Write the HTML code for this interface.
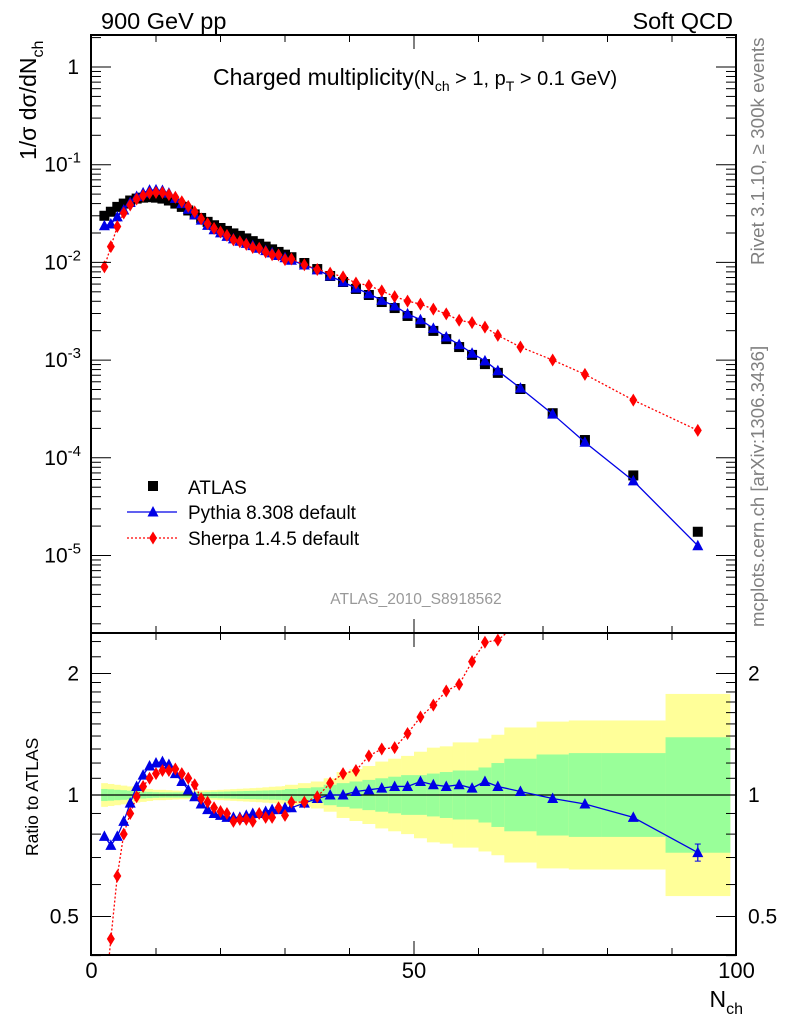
<!DOCTYPE html>
<html><head><meta charset="utf-8"><style>
body{margin:0;background:#fff;}
svg{display:block;font-family:"Liberation Sans",sans-serif;}
</style></head><body>
<svg id="c" width="786" height="1024" viewBox="0 0 786 1024" xmlns="http://www.w3.org/2000/svg"></svg>
<script>
const nch = [2,3,4,5,6,7,8,9,10,11,12,13,14,15,16,17,18,19,20,21,22,23,24,25,26,27,28,29,30,31,33,35,37,39,41,43,45,47,49,51,53,55,57,59,61,63,66.5,71.5,76.5,84,94];
const binLo = [1.5,2.5,3.5,4.5,5.5,6.5,7.5,8.5,9.5,10.5,11.5,12.5,13.5,14.5,15.5,16.5,17.5,18.5,19.5,20.5,21.5,22.5,23.5,24.5,25.5,26.5,27.5,28.5,29.5,30,32,34,36,38,40,42,44,46,48,50,52,54,56,58,60,62,64,69,74,79,89];
const binHi = [2.5,3.5,4.5,5.5,6.5,7.5,8.5,9.5,10.5,11.5,12.5,13.5,14.5,15.5,16.5,17.5,18.5,19.5,20.5,21.5,22.5,23.5,24.5,25.5,26.5,27.5,28.5,29.5,30,32,34,36,38,40,42,44,46,48,50,52,54,56,58,60,62,64,69,74,79,89,99];
const atlas = [0.030,0.033,0.037,0.040,0.043,0.045,0.046,0.0465,0.046,0.045,0.043,0.040,0.037,0.034,0.031,0.0285,0.026,0.024,0.0225,0.021,0.0198,0.0187,0.0176,0.0165,0.0155,0.0145,0.0136,0.0128,0.0120,0.0113,0.00986,0.00855,0.00726,0.0063,0.00535,0.00464,0.00393,0.00341,0.00283,0.0024,0.00199,0.00164,0.00136,0.00113,0.00091,0.00074,0.000506,0.000286,0.000152,0.000066,0.0000175];
const pythiaRatio = [0.79,0.75,0.79,0.86,0.955,1.05,1.12,1.18,1.20,1.21,1.19,1.13,1.08,1.03,0.99,0.95,0.92,0.90,0.89,0.88,0.88,0.88,0.89,0.90,0.90,0.91,0.92,0.92,0.93,0.93,0.955,0.98,1.0,1.0,1.02,1.03,1.04,1.05,1.05,1.08,1.06,1.05,1.06,1.04,1.08,1.05,1.02,0.98,0.95,0.88,0.72];
const sherpaRatio = [0.30,0.44,0.63,0.80,0.90,0.99,1.05,1.10,1.13,1.15,1.15,1.16,1.13,1.10,1.06,0.98,0.96,0.93,0.91,0.90,0.86,0.87,0.87,0.86,0.90,0.88,0.88,0.93,0.89,0.96,0.96,0.99,1.07,1.13,1.15,1.25,1.30,1.31,1.42,1.56,1.67,1.81,1.88,2.14,2.39,2.42,2.69,3.5,4.7,5.9,10.9];
const yellowErr = [0.07,0.065,0.06,0.055,0.05,0.045,0.04,0.035,0.03,0.03,0.028,0.026,0.025,0.025,0.025,0.026,0.027,0.028,0.03,0.032,0.034,0.036,0.038,0.04,0.042,0.045,0.048,0.05,0.052,0.06,0.07,0.08,0.10,0.14,0.16,0.18,0.21,0.23,0.25,0.28,0.31,0.32,0.35,0.35,0.38,0.41,0.47,0.52,0.53,0.53,0.78];
const greenErr = [0.035,0.033,0.03,0.028,0.025,0.022,0.02,0.018,0.016,0.015,0.015,0.015,0.015,0.015,0.015,0.016,0.017,0.018,0.019,0.02,0.021,0.022,0.023,0.024,0.025,0.026,0.027,0.028,0.03,0.035,0.04,0.045,0.06,0.07,0.08,0.09,0.10,0.11,0.12,0.12,0.13,0.14,0.15,0.15,0.17,0.20,0.23,0.26,0.27,0.27,0.39];
const xTicks = [0,50,100];
const yTickExp = [0,-1,-2,-3,-4,-5];
const ratioTicks = [0.5,1,2];

const S = document.getElementById('c');
const NS = 'http://www.w3.org/2000/svg';
function mk(tag, attrs, parent){const e=document.createElementNS(NS,tag);for(const k in attrs)e.setAttribute(k,attrs[k]);(parent||S).appendChild(e);return e;}
const L=91, R=736, T=35, MB=633, RB=955;
const xs = v => L + (v/100)*(R-L) + 0.5;
const ym = v => 67 - 97.7*Math.log10(v);
const yr = v => 795 - 121.5*Math.log2(v);

const defs = mk('defs',{});
const c1 = mk('clipPath',{id:'cm'},defs); mk('rect',{x:L,y:T,width:R-L,height:MB-T},c1);
const c2 = mk('clipPath',{id:'cr'},defs); mk('rect',{x:L,y:MB,width:R-L,height:RB-MB},c2);

const gBand = mk('g',{'clip-path':'url(#cr)'});


for(let i=0;i<nch.length;i++){
  const x1=xs(binLo[i]), x2=xs(binHi[i]);
  const yt=yr(1+yellowErr[i]), yb=yr(1/(1+yellowErr[i]));
  const r=mk('rect',{x:x1,y:yt,width:x2-x1+0.3,height:yb-yt,fill:'#ffff99'},gBand);
  
  
  const gt=yr(1+greenErr[i]), gb=yr(1/(1+greenErr[i]));
  const g=mk('rect',{x:x1,y:gt,width:x2-x1+0.3,height:gb-gt,fill:'#99ff99'},gBand);
  
  
}
mk('line',{x1:L,x2:R,y1:yr(1),y2:yr(1),stroke:'#000','stroke-width':1.2});

function sq(g,x,y){const e=mk('rect',{x:x-5,y:y-5,width:10,height:10,fill:'#000'},g);}
function tri(g,x,y){const e=mk('polygon',{points:`${x},${y-6} ${x-5.5},${y+4.5} ${x+5.5},${y+4.5}`,fill:'#0000e6'},g);}
function dia(g,x,y){const e=mk('polygon',{points:`${x},${y-6.5} ${x-4},${y} ${x},${y+6.5} ${x+4},${y}`,fill:'#ff0000'},g);}

const gm = mk('g',{'clip-path':'url(#cm)'});


const pyVals = atlas.map((a,i)=>a*pythiaRatio[i]);
const shVals = atlas.map((a,i)=>a*sherpaRatio[i]);
for(let i=0;i<nch.length;i++) sq(gm,xs(nch[i]),ym(atlas[i]));
let p=mk('polyline',{points:nch.map((n,i)=>xs(n)+','+ym(pyVals[i])).join(' '),fill:'none',stroke:'#0000e6','stroke-width':1.3},gm);

p=mk('polyline',{points:nch.map((n,i)=>xs(n)+','+ym(shVals[i])).join(' '),fill:'none',stroke:'#ff0000','stroke-width':1.3,'stroke-dasharray':'2,2'},gm);

for(let i=0;i<nch.length;i++) tri(gm,xs(nch[i]),ym(pyVals[i]));
for(let i=0;i<nch.length;i++) dia(gm,xs(nch[i]),ym(shVals[i]));

const gr = mk('g',{'clip-path':'url(#cr)'});


p=mk('polyline',{points:nch.map((n,i)=>xs(n)+','+yr(pythiaRatio[i])).join(' '),fill:'none',stroke:'#0000e6','stroke-width':1.3},gr);

p=mk('polyline',{points:nch.map((n,i)=>xs(n)+','+yr(sherpaRatio[i])).join(' '),fill:'none',stroke:'#ff0000','stroke-width':1.3,'stroke-dasharray':'2,2'},gr);

{const i=nch.length-1, x=xs(nch[i]);
 mk('line',{x1:x,x2:x,y1:yr(pythiaRatio[i]*1.05),y2:yr(pythiaRatio[i]/1.05),stroke:'#0000e6','stroke-width':1.2},gr);
 mk('line',{x1:x-3,x2:x+3,y1:yr(pythiaRatio[i]*1.05),y2:yr(pythiaRatio[i]*1.05),stroke:'#0000e6'},gr);
 mk('line',{x1:x-3,x2:x+3,y1:yr(pythiaRatio[i]/1.05),y2:yr(pythiaRatio[i]/1.05),stroke:'#0000e6'},gr);}
for(let i=0;i<nch.length;i++) tri(gr,xs(nch[i]),yr(pythiaRatio[i]));
for(let i=0;i<nch.length;i++) dia(gr,xs(nch[i]),yr(sherpaRatio[i]));

const f1=mk('rect',{x:L,y:T,width:R-L,height:MB-T,fill:'none',stroke:'#000','stroke-width':2});

const f2=mk('rect',{x:L,y:MB,width:R-L,height:RB-MB,fill:'none',stroke:'#000','stroke-width':2});


for(let v=0;v<=100;v+=10){
  const x=xs(v), len = v%50===0?14:7;
  mk('line',{x1:x,x2:x,y1:T,y2:T+len,stroke:'#000'});
  mk('line',{x1:x,x2:x,y1:MB,y2:MB-len,stroke:'#000'});
  mk('line',{x1:x,x2:x,y1:MB,y2:MB+len,stroke:'#000'});
  mk('line',{x1:x,x2:x,y1:RB,y2:RB-len,stroke:'#000'});
}
xTicks.forEach(v=>{const t=mk('text',{x:xs(v),y:978,'font-size':22,'text-anchor':'middle'});t.textContent=v;
  });
for(let e=-6;e<=0;e++){for(let m=1;m<=9;m++){const v=m*Math.pow(10,e);const y=ym(v);if(y<T||y>MB)continue;
  const len=m===1?20:10;
  mk('line',{x1:L,x2:L+len,y1:y,y2:y,stroke:'#000'});
  mk('line',{x1:R,x2:R-len,y1:y,y2:y,stroke:'#000'});}}
yTickExp.forEach(e=>{const y=ym(Math.pow(10,e));
  const t=mk('text',{x:79,y:y+7,'font-size':21,'text-anchor':'end'});
  
  if(e===0){t.textContent='1';}
  else{t.innerHTML='10<tspan dy="-9" font-size="15">'+e+'</tspan>';t.setAttribute('x',81);}
});
[0.4,0.5,0.6,0.7,0.8,0.9,1,2].forEach(v=>{const y=yr(v);const len=(v===0.5||v===1||v===2)?20:10;
  mk('line',{x1:L,x2:L+len,y1:y,y2:y,stroke:'#000'});mk('line',{x1:R,x2:R-len,y1:y,y2:y,stroke:'#000'});});
[1.1,1.2,1.3,1.4,1.5,1.6,1.7,1.8,1.9,2.2,2.4].forEach(v=>{const y=yr(v);
  mk('line',{x1:L,x2:L+10,y1:y,y2:y,stroke:'#000'});mk('line',{x1:R,x2:R-10,y1:y,y2:y,stroke:'#000'});});
ratioTicks.forEach(v=>{const y=yr(v);
  let t=mk('text',{x:79,y:y+7,'font-size':21,'text-anchor':'end'});t.textContent=v;
  
  t=mk('text',{x:748,y:y+7,'font-size':21,'text-anchor':'start'});t.textContent=v;
  });
</script>
<svg width="786" height="1024" style="position:absolute;left:0;top:0" xmlns="http://www.w3.org/2000/svg" font-family="Liberation Sans, sans-serif">
<text x="101" y="29" font-size="23.5">900 GeV pp</text>
<text x="733" y="29" font-size="23.5" text-anchor="end">Soft QCD</text>
<text x="213" y="85" font-size="23">Charged multiplicity<tspan font-size="20">(N</tspan><tspan font-size="14" dy="6">ch</tspan><tspan font-size="20" dy="-6"> &gt; 1, p</tspan><tspan font-size="14" dy="6">T</tspan><tspan font-size="20" dy="-6"> &gt; 0.1 GeV)</tspan></text>
<text transform="translate(36,160) rotate(-90)" font-size="23">1/σ dσ/dN<tspan font-size="16" dy="7">ch</tspan></text>
<text transform="translate(38,856) rotate(-90)" font-size="17.5">Ratio to ATLAS</text>
<text x="743" y="1007" font-size="23" text-anchor="end">N<tspan font-size="16" dy="7">ch</tspan></text>
<text transform="translate(764,265) rotate(-90)" font-size="18.8" fill="#808080">Rivet 3.1.10, ≥ 300k events</text>
<text transform="translate(764,627) rotate(-90)" font-size="18.6" fill="#808080">mcplots.cern.ch [arXiv:1306.3436]</text>
<text x="416" y="604" font-size="15.6" fill="#999" text-anchor="middle">ATLAS_2010_S8918562</text>
<g>
<rect x="148" y="481" width="10" height="10" fill="#000"/>
<text x="188" y="494" font-size="19">ATLAS</text>
<line x1="127" x2="177" y1="512" y2="512" stroke="#0000e6" stroke-width="1.3"/>
<polygon points="153,506 147.5,516.5 158.5,516.5" fill="#0000e6"/>
<text x="188" y="519" font-size="19">Pythia 8.308 default</text>
<line x1="127" x2="177" y1="538" y2="538" stroke="#ff0000" stroke-width="1.3" stroke-dasharray="2,2"/>
<polygon points="153,531.5 149,538 153,544.5 157,538" fill="#ff0000"/>
<text x="188" y="545" font-size="19">Sherpa 1.4.5 default</text>
</g>
</svg>
</body></html>
